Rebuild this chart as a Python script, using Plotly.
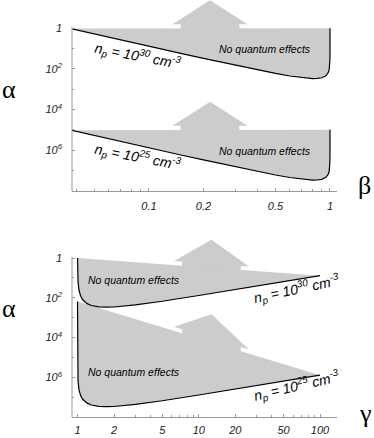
import plotly.graph_objects as go
from math import log10

# ---------------- data ----------------
beta = [0.037, 0.05, 0.07, 0.1, 0.15, 0.2, 0.3, 0.4, 0.5, 0.6, 0.7, 0.8, 0.85,
        0.9, 0.95, 0.98, 0.99, 0.995, 0.999, 0.9999, 1.0]
alpha_beta_30 = [0.97, 0.52, 0.265, 0.13, 0.058, 0.033, 0.0151, 0.0088, 0.0060,
                 0.0045, 0.0037, 0.00337, 0.0034, 0.00367, 0.0046, 0.0068, 0.0094,
                 0.0131, 0.029, 0.092, 1.0]
alpha_beta_25 = [9.7e-6, 5.2e-6, 2.65e-6, 1.3e-6, 5.8e-7, 3.3e-7, 1.51e-7, 8.8e-8,
                 6.0e-8, 4.5e-8, 3.7e-8, 3.37e-8, 3.4e-8, 3.67e-8, 4.6e-8, 6.8e-8,
                 9.4e-8, 1.31e-7, 2.9e-7, 9.2e-7, 1.0e-5]

gamma_30 = [1.00065, 1.001, 1.003, 1.01, 1.03, 1.06, 1.1, 1.2, 1.3, 1.5, 1.73, 2,
            3, 5, 10, 20, 50, 100]
alpha_gamma_30 = [1.0, 0.649, 0.2175, 0.0664, 0.0232, 0.0125, 0.0082, 0.0051,
                  0.0041, 0.0035, 0.00337, 0.00345, 0.0044, 0.0067, 0.0131, 0.026,
                  0.065, 0.13]
gamma_25 = [1.000001, 1.00001, 1.0001, 1.001, 1.003, 1.01, 1.03, 1.06, 1.1, 1.2,
            1.3, 1.5, 1.73, 2, 3, 5, 10, 20, 50, 100]
alpha_gamma_25 = [6.5e-3, 6.5e-4, 6.5e-5, 6.5e-6, 2.2e-6, 6.6e-7, 2.3e-7, 1.25e-7,
                  8.2e-8, 5.1e-8, 4.1e-8, 3.5e-8, 3.37e-8, 3.45e-8, 4.4e-8, 6.7e-8,
                  1.31e-7, 2.6e-7, 6.5e-7, 1.3e-6]

beta_ticks = [0.1, 0.2, 0.5, 1]
beta_ticktext = ["0.1", "0.2", "0.5", "1"]
gamma_ticks = [1, 2, 5, 10, 20, 50, 100]
gamma_ticktext = ["1", "2", "5", "10", "20", "50", "100"]
alpha_ticks = [1, 1e-2, 1e-4, 1e-6]
alpha_ticktext = ["1", "10<sup>2</sup>", "10<sup>4</sup>", "10<sup>6</sup>"]
label_30 = "n<sub>p</sub> = 10<sup>30</sup> cm<sup>-3</sup>"
label_25 = "n<sub>p</sub> = 10<sup>25</sup> cm<sup>-3</sup>"
label_region = "No quantum effects"

# ---------------- layout geometry ----------------
W, H = 374, 438
X0, X1 = 72, 337
TOP_XR = [-1.425, 0.0387]
TOP_YR = [-8.01, 1.394]
BOT_XR = [-0.0454, 2.140]
BOT_YR = [-7.99, 1.307]
TOP_DOM = [1 - 191 / H, 1.0]
BOT_DOM = [1 - 417 / H, 1 - 232 / H]

GRAY = "#cccccc"
AX = "#999999"


def px(x):
    return x / W


def py(y):
    return 1 - y / H


prof = [(-29.3, -3), (-29.3, 4), (-37.5, 4), (0, 28), (37.5, 4), (29.3, 4), (29.3, -3)]


def make_arrow(xc_px, xr, ky, line_fn):
    kx = (xr[1] - xr[0]) / (X1 - X0)
    xc = xr[0] + (xc_px - X0) * kx
    xs, ys = [], []
    for u, v in prof:
        xl = xc + u * kx
        yl = line_fn(xl) + v * ky
        xs.append(10 ** xl)
        ys.append(10 ** yl)
    return xs, ys


fig = go.Figure()

fill_kw = dict(mode="lines", fill="toself", fillcolor=GRAY,
               line=dict(width=0, color=GRAY), hoverinfo="skip", showlegend=False)
curve_kw = dict(mode="lines", line=dict(color="black", width=1.2),
                hoverinfo="skip", showlegend=False)

# ---- top panel (beta) ----
ky_top = (TOP_YR[1] - TOP_YR[0]) / 191.0
for al in (alpha_beta_30, alpha_beta_25):
    fig.add_trace(go.Scatter(x=beta, y=al, xaxis="x", yaxis="y", **fill_kw))
    top = log10(al[-1])
    ax_, ay_ = make_arrow(210, TOP_XR, ky_top, lambda xl, t=top: t)
    fig.add_trace(go.Scatter(x=ax_, y=ay_, xaxis="x", yaxis="y", **fill_kw))
    fig.add_trace(go.Scatter(x=beta, y=al, xaxis="x", yaxis="y", **curve_kw))

# ---- bottom panel (gamma) ----
ky_bot = (BOT_YR[1] - BOT_YR[0]) / (417 - 232)
for g, al in ((gamma_25, alpha_gamma_25), (gamma_30, alpha_gamma_30)):
    fig.add_trace(go.Scatter(x=g, y=al, xaxis="x2", yaxis="y2", **fill_kw))
    gx0, gy0 = log10(g[0]), log10(al[0])
    gx1, gy1 = log10(g[-1]), log10(al[-1])
    fn = lambda xl, a=gx0, b=gy0, c=gx1, d=gy1: b + (d - b) * (xl - a) / (c - a)
    ax_, ay_ = make_arrow(211.5, BOT_XR, ky_bot, fn)
    fig.add_trace(go.Scatter(x=ax_, y=ay_, xaxis="x2", yaxis="y2", **fill_kw))
for g, al in ((gamma_25, alpha_gamma_25), (gamma_30, alpha_gamma_30)):
    fig.add_trace(go.Scatter(x=g, y=al, xaxis="x2", yaxis="y2", **curve_kw))

tickfont = dict(family="Liberation Sans, Arial, sans-serif", size=11,
                style="italic", color="#222222")

minor_beta = [0.04, 0.05, 0.06, 0.07, 0.08, 0.09, 0.3, 0.4, 0.6, 0.7, 0.8, 0.9]
minor_gamma = [3, 4, 6, 7, 8, 9, 30, 40, 60, 70, 80, 90]
minor_alpha = [1e-1, 1e-3, 1e-5, 1e-7, 1e-8]

xcommon = dict(type="log", domain=[px(X0), px(X1)], showline=True, linecolor=AX,
               linewidth=1, ticks="inside", ticklen=3, tickcolor=AX, tickwidth=1,
               showgrid=False, zeroline=False, tickfont=tickfont,
               tickmode="array")
ycommon = dict(type="log", showline=False, ticks="inside", ticklen=3,
               tickcolor=AX, tickwidth=1, showgrid=False, zeroline=False,
               tickfont=tickfont, tickmode="array", tickvals=alpha_ticks,
               ticktext=alpha_ticktext, ticklabelstandoff=9,
               minor=dict(tickmode="array", tickvals=minor_alpha, ticks="inside",
                          ticklen=2, tickcolor=AX, showgrid=False))

fig.update_layout(
    width=W, height=H, margin=dict(l=0, r=0, t=0, b=0),
    paper_bgcolor="white", plot_bgcolor="white",
    xaxis=dict(xcommon, range=TOP_XR, anchor="y", tickvals=beta_ticks,
               ticktext=beta_ticktext, ticklabelstandoff=5,
               minor=dict(tickmode="array", tickvals=minor_beta, ticks="inside",
                          ticklen=2, tickcolor=AX, showgrid=False)),
    yaxis=dict(ycommon, range=TOP_YR, domain=TOP_DOM, anchor="x"),
    xaxis2=dict(xcommon, range=BOT_XR, anchor="y2", tickvals=gamma_ticks,
                ticktext=gamma_ticktext, ticklabelstandoff=3,
                minor=dict(tickmode="array", tickvals=minor_gamma, ticks="inside",
                           ticklen=2, tickcolor=AX, showgrid=False)),
    yaxis2=dict(ycommon, range=BOT_YR, domain=BOT_DOM, anchor="x2"),
    showlegend=False,
)

# y axis lines (they stop at alpha = 1, below the arrows)
fig.add_shape(type="line", xref="paper", yref="paper", x0=px(X0), x1=px(X0),
              y0=py(26.7), y1=py(191), line=dict(color=AX, width=1))
fig.add_shape(type="line", xref="paper", yref="paper", x0=px(X0), x1=px(X0),
              y0=py(257), y1=py(417), line=dict(color=AX, width=1))

txt_font = dict(family="Liberation Sans, Arial, sans-serif", size=14,
                style="italic", color="black")
reg_font = dict(family="Liberation Sans, Arial, sans-serif", size=10.5,
                style="italic", color="black")
greek_font = dict(family="Liberation Serif, Times New Roman, serif", size=26,
                  color="black")


def ann(text, x, y, font, angle=0):
    fig.add_annotation(text=text, x=px(x), y=py(y), xref="paper", yref="paper",
                       showarrow=False, font=font, textangle=angle,
                       xanchor="center", yanchor="middle")


ann(label_30, 138, 56, txt_font, 11)
ann(label_25, 138, 157, txt_font, 11)
ann(label_region, 265, 48.5, reg_font)
ann(label_region, 265, 151, reg_font)
ann(label_region, 134, 280, reg_font)
ann(label_region, 134, 371.5, reg_font)
ann(label_30, 297, 289, txt_font, -12)
ann(label_25, 297, 386, txt_font, -13)
ann("α", 9, 90, greek_font)
ann("α", 9, 308, greek_font)
ann("β", 364, 186, greek_font)
ann("γ", 365, 413, greek_font)

fig.write_html("out.html", config={"displayModeBar": False},
               post_script="document.body.style.margin='0';")
